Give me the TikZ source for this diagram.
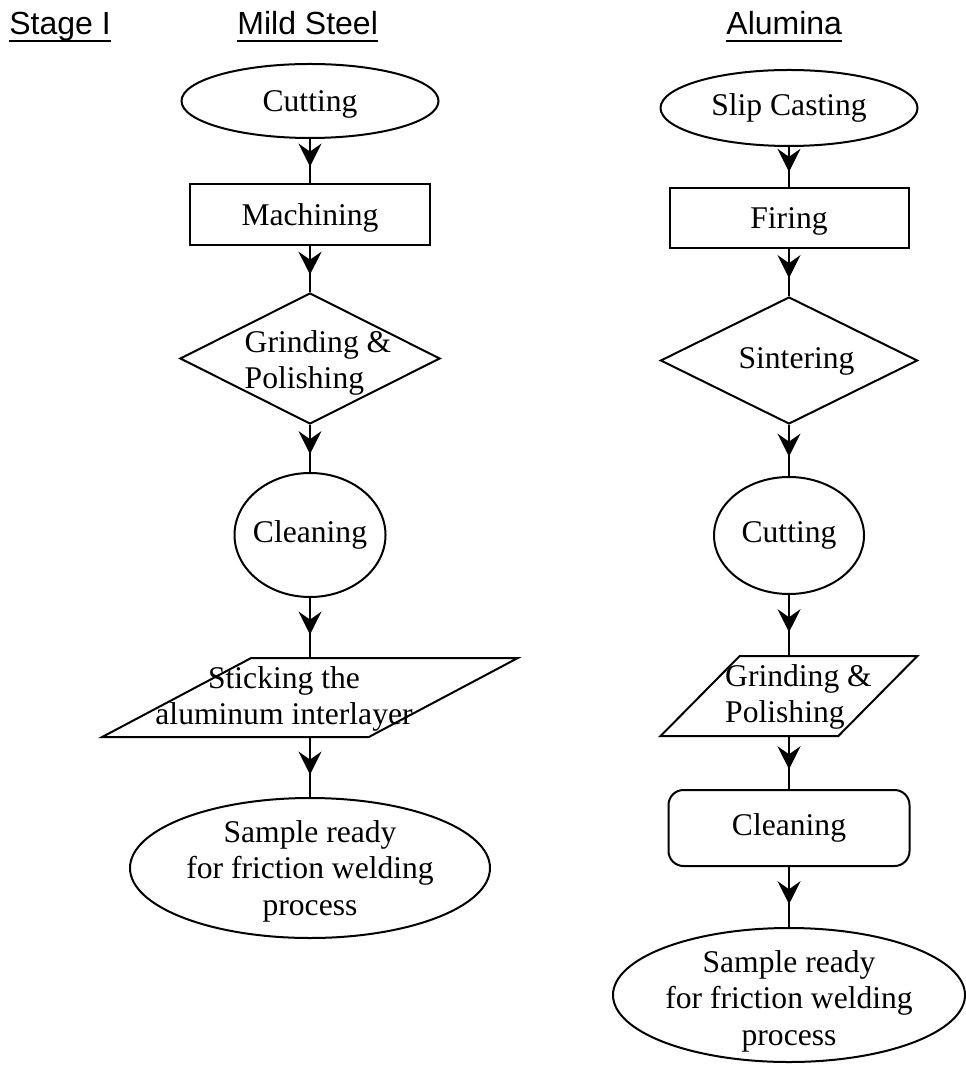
\documentclass[tikz,border=0pt]{standalone}
\usepackage{fontspec}
\setmainfont{Liberation Serif}
\newfontfamily\headfont{Liberation Sans}
\usetikzlibrary{shapes.geometric,arrows.meta,decorations.markings}

\begin{document}
\begin{tikzpicture}[x=0.5pt,y=-0.5pt,
  every node/.style={font=\fontsize{15.8}{18.25}\selectfont},
  box/.style={draw, line width=1pt, inner sep=0pt},
  oval/.style={box, ellipse},
  rhomb/.style={box, diamond},
  slant/.style={box, trapezium, trapezium stretches=true, inner sep=2pt},
  txt/.style={inner sep=0pt},
  low/.style={text height=14pt, text depth=3.4pt},
  head/.style={font=\headfont\fontsize{16}{19}\selectfont, inner sep=0pt, anchor=base west},
  flow/.style={line width=1pt, postaction={decorate},
    decoration={markings, mark=at position 0.62 with {\arrow{Stealth[length=11.5pt,width=11.5pt,inset=4pt]}}}}]
\useasboundingbox (0,0) rectangle (965,1068);

\node[head] (hst) at (9,35) {Stage I};
\node[head] (hms) at (237,35) {Mild Steel};
\node[head] (hal) at (726,35) {Alumina};
\draw[line width=1pt] ([yshift=-3pt]hst.base west) -- ([yshift=-3pt]hst.base east);
\draw[line width=1pt] ([yshift=-3pt]hms.base west) -- ([yshift=-3pt]hms.base east);
\draw[line width=1pt] ([yshift=-3pt]hal.base west) -- ([yshift=-3pt]hal.base east);

\node[oval, low, minimum width=128.5pt, minimum height=37pt] (ms1) at (310,101) {Cutting};
\node[box, low, minimum width=120pt, minimum height=30.5pt] (ms2) at (310,215) {Machining};
\node[rhomb, minimum width=130pt, minimum height=65.5pt] (ms3) at (310,358.5) {};
\node[txt, align=left] (ms3t) at (318,363) {Grinding \&\\Polishing};
\node[oval, minimum width=75.5pt, minimum height=62pt, inner xsep=-3pt] (ms4) at (310,535) {Cleaning};
\node[slant, trapezium left angle=38.3, trapezium right angle=141.7, minimum width=208pt, minimum height=39.5pt] (ms5) at (310,697.5) {};
\node[txt, align=center] (ms5t) at (284,699) {Sticking the\\aluminum interlayer};
\node[oval, minimum width=180pt, minimum height=70pt] (ms6) at (310,868) {};
\node[txt, align=center] (ms6t) at (310,871) {Sample ready\\for friction welding\\process};
\draw[flow] (ms1) -- (ms2);
\draw[flow] (ms2) -- (ms3);
\draw[flow] (ms3) -- (ms4);
\draw[flow] (ms4) -- (ms5);
\draw[flow] (ms5) -- (ms6);

\node[oval, minimum width=128.5pt, minimum height=38pt] (al1) at (789,108) {Slip Casting};
\node[box, low, minimum width=119.5pt, minimum height=30pt] (al2) at (789,218) {Firing};
\node[rhomb, minimum width=128.5pt, minimum height=63.5pt] (al3) at (789,360.5) {};
\node[txt] (al3t) at (796.5,361) {Sintering};
\node[oval, minimum width=75pt, minimum height=58.5pt] (al4) at (789,535.5) {Cutting};
\node[slant, trapezium left angle=51.3, trapezium right angle=128.7, minimum width=128.5pt, minimum height=40pt] (al5) at (789,696) {};
\node[txt, align=left] (al5t) at (798.5,697) {Grinding \&\\Polishing};
\node[box, rounded corners=7.5pt, minimum width=120.5pt, minimum height=38pt] (al6) at (789,828) {Cleaning};
\node[oval, minimum width=176pt, minimum height=67pt] (al7) at (789,995) {};
\node[txt, align=center] (al7t) at (789,1001) {Sample ready\\for friction welding\\process};
\draw[flow] (al1) -- (al2);
\draw[flow] (al2) -- (al3);
\draw[flow] (al3) -- (al4);
\draw[flow] (al4) -- (al5);
\draw[flow] (al5) -- (al6);
\draw[flow] (al6) -- (al7);
\end{tikzpicture}
\end{document}
